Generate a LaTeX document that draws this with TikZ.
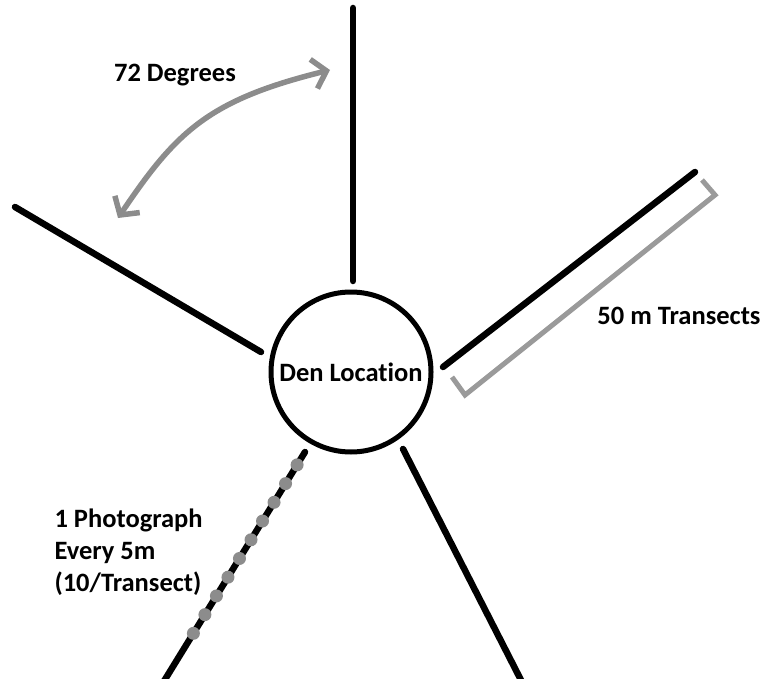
\documentclass[tikz,border=0pt]{standalone}
\usepackage{fontspec}
\setmainfont{Carlito}[Ligatures=NoCommon]
\usepackage{xcolor}
\usepackage{tikz}
\usetikzlibrary{arrows.meta, calc}
\definecolor{negro}{HTML}{000000}
\definecolor{gris}{HTML}{8C8C8C}
\definecolor{grisclaro}{HTML}{9A9A9A}
\tikzset{
  guarida/.style={circle, draw=negro, line width=5pt, minimum size=160pt,
    inner sep=0pt, font=\fontsize{26.5}{30}\selectfont\bfseries},
  linea/.style={draw=negro, line width=6.5pt, line cap=round},
  flecha/.style={draw=gris, line width=5.5pt,
    {Straight Barb[length=13pt, width=30pt]}-{Straight Barb[length=13pt, width=30pt]}},
  corchete/.style={draw=grisclaro, line width=5pt, line join=miter},
  marca/.style={fill=gris},
  etiqueta/.style={font=\fontsize{26.5}{32}\selectfont\bfseries, align=left}
}

\begin{document}
\begin{tikzpicture}[x=1pt, y=-1pt]
  \useasboundingbox (0,0) rectangle (770,679);

  % --- Den ---
  \node[guarida] (den) at (351,372) {Den Location};

  % --- Extremos de los transectos ---
  \coordinate (n0) at (353,281);  \coordinate (n1) at (353,8);
  \coordinate (o0) at (261,352);  \coordinate (o1) at (15,207);
  \coordinate (e0) at (443,367);  \coordinate (e1) at (695,172);
  \coordinate (s0) at (403,449);  \coordinate (s1) at (524,686);
  \coordinate (w0) at (305,452);  \coordinate (w1) at (161,686);

  % --- Transectos ---
  \draw[linea] (n0) -- (n1);
  \draw[linea] (o0) -- (o1);
  \draw[linea] (e0) -- (e1);
  \draw[linea] (s0) -- (s1);
  \draw[linea] (w0) -- (w1);

  % Fotos cada 5 m
  \foreach \i in {0,...,9}
    \fill[marca] ($(w0)!{0.055+0.08*\i}!(w1)$) circle (6.5);

  % --- Angulo entre transectos ---
  \coordinate (a0) at (118,218);
  \coordinate (a1) at (330,70);
  \draw[flecha] (a0) .. controls (176,132) and (208,100) .. (a1);

  % --- Corchete de 50 m ---
  \draw[corchete] (452,377) -- (465,395) -- (715,195) -- (702,180);

  % --- Textos ---
  \node[etiqueta] (grados) at (175,75) {72 Degrees};
  \node[etiqueta] (largo) at (679,316) {50 m Transects};
  \node[etiqueta, anchor=north west] (fotos) at (51,505)
    {1 Photograph\\ Every 5m\\ (10/Transect)};

\end{tikzpicture}
\end{document}
